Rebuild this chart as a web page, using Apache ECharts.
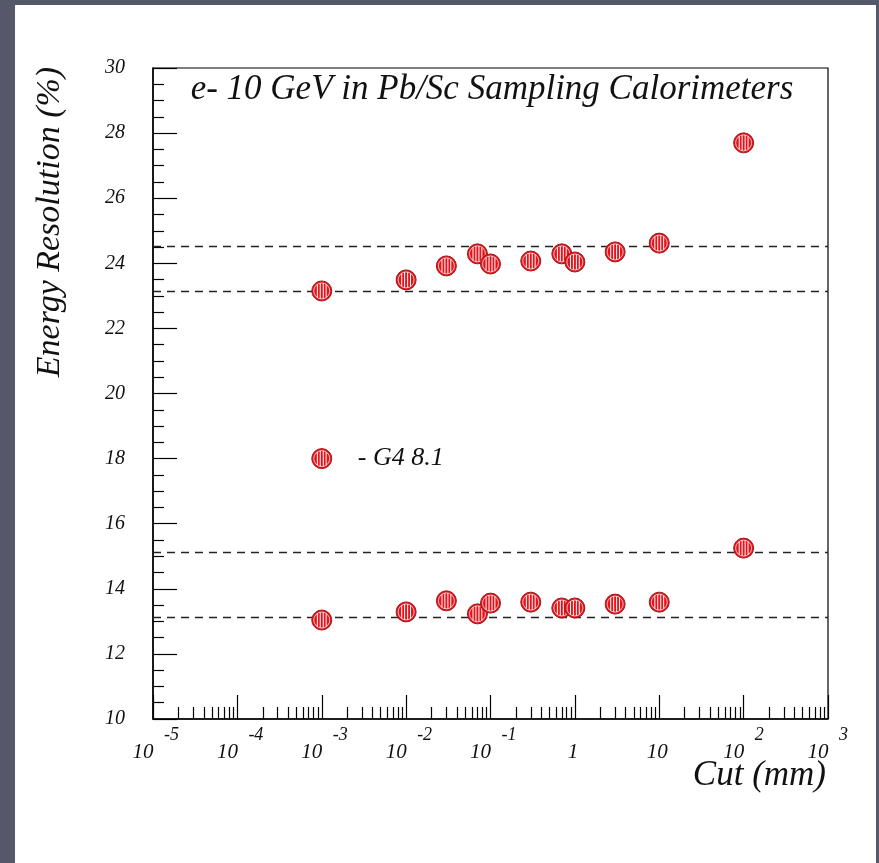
<!DOCTYPE html>
<html>
<head>
<meta charset="utf-8">
<script src="https://cdn.jsdelivr.net/npm/echarts@6/dist/echarts.min.js"></script>
<style>
  html, body { margin: 0; padding: 0; background: #555869; }
  .paper { position: absolute; left: 15px; top: 5px; width: 861px; height: 858px; background: #fff; }
  #chart { position: absolute; left: 0; top: 0; width: 879px; height: 863px; }
</style>
</head>
<body>
<div class="paper"></div>
<div id="chart"></div>
<script>
// production cut (mm) and energy resolution (%)
const cuts = [0.001, 0.01, 0.03, 0.07, 0.1, 0.3, 0.7, 1, 3, 10, 100]
const resUpper = [23.15, 23.49, 23.92, 24.29, 23.98, 24.07, 24.29, 24.04, 24.35, 24.62, 27.70]
const resLower = [13.04, 13.29, 13.63, 13.23, 13.56, 13.59, 13.41, 13.41, 13.53, 13.59, 15.25]
// dashed reference levels
const refLines = [24.53, 23.15, 15.13, 13.13]
// legend marker position and text
const legendPoint = [0.001, 18]
const legendText = '- G4 8.1'
// x axis ticks
const xMajorTicks = [1e-5, 1e-4, 1e-3, 1e-2, 1e-1, 1, 10, 100, 1000]
const xTickBase = ['10', '10', '10', '10', '10', '1', '10', '10', '10']
const xTickSup = ['-5', '-4', '-3', '-2', '-1', '', '', '2', '3']
const xMinorMults = [2, 3, 4, 5, 6, 7, 8, 9]
const xMinorTicks = xMajorTicks.slice(0, -1).flatMap(d => xMinorMults.map(m => m * d))

const font = 'Liberation Serif'

function tickIndex (value) {
  return xMajorTicks.findIndex(v => Math.abs(Math.log10(v) - Math.log10(value)) < 1e-6)
}

function renderMarker (params, api) {
  const p = api.coord([api.value(0), api.value(1)])
  const r = 10
  const children = [
    { type: 'circle', shape: { cx: p[0], cy: p[1], r: r }, style: { fill: '#e3141b', stroke: '#a01818', lineWidth: 1 } },
    { type: 'circle', shape: { cx: p[0], cy: p[1], r: r - 2 }, style: { fill: 'none', stroke: '#fff', lineWidth: 0.7 } }
  ]
  // white vertical stripes
  ;[-4.4, -1.5, 1.5, 4.4].forEach(dx => {
    const h = Math.sqrt((r - 2) * (r - 2) - dx * dx)
    children.push({
      type: 'line',
      shape: { x1: p[0] + dx, y1: p[1] - h, x2: p[0] + dx, y2: p[1] + h },
      style: { stroke: '#fff', lineWidth: 1 }
    })
  })
  return { type: 'group', children: children }
}

const chart = echarts.init(document.getElementById('chart'))
const option = {
  backgroundColor: 'transparent',
  animation: false,
  grid: {
    left: 153,
    right: 51,
    top: 68,
    bottom: 144,
    show: true,
    borderColor: '#000',
    borderWidth: 1.2,
    backgroundColor: 'transparent'
  },
  xAxis: [
    {
      // major ticks + mantissa labels
      type: 'log',
      logBase: 10,
      min: 1e-5,
      max: 1e3,
      position: 'bottom',
      axisLine: { show: true, lineStyle: { color: '#000', width: 1.5 } },
      axisTick: { show: true, inside: true, length: 24, customValues: xMajorTicks, lineStyle: { color: '#000', width: 1.2 } },
      axisLabel: {
        customValues: xMajorTicks,
        margin: 23,
        formatter: function (value) {
          const i = tickIndex(value)
          if (i < 0) return ''
          return xTickSup[i] ? '{b|' + xTickBase[i] + '}' : '{p|' + xTickBase[i] + '}'
        },
        rich: {
          b: { fontFamily: font, fontStyle: 'italic', fontSize: 21, color: '#111', padding: [0, 20, 0, 0] },
          p: { fontFamily: font, fontStyle: 'italic', fontSize: 21, color: '#111', padding: [0, 4, 0, 0] }
        }
      },
      splitLine: { show: false }
    },
    {
      // minor ticks + exponent labels
      type: 'log',
      logBase: 10,
      min: 1e-5,
      max: 1e3,
      position: 'bottom',
      offset: 0,
      axisLine: { show: false },
      axisTick: { show: true, inside: true, length: 12, customValues: xMinorTicks, lineStyle: { color: '#000', width: 1.2 } },
      axisLabel: {
        customValues: xMajorTicks,
        margin: 7,
        align: 'left',
        padding: [0, 0, 0, 11],
        fontFamily: font,
        fontStyle: 'italic',
        fontSize: 18,
        color: '#111',
        formatter: function (value) {
          const i = tickIndex(value)
          return i < 0 ? '' : xTickSup[i]
        }
      },
      splitLine: { show: false }
    }
  ],
  yAxis: {
    type: 'value',
    min: 10,
    max: 30,
    interval: 2,
    axisLine: { show: true, lineStyle: { color: '#000', width: 1.5 } },
    axisTick: { show: true, inside: true, length: 24, lineStyle: { color: '#000', width: 1.2 } },
    minorTick: { show: true, splitNumber: 4, length: 11, lineStyle: { color: '#000', width: 1.2 } },
    axisLabel: { fontFamily: font, fontStyle: 'italic', fontSize: 20, color: '#111', margin: 28 },
    splitLine: { show: false }
  },
  graphic: [
    {
      type: 'text',
      x: 492,
      y: 90,
      style: { text: 'e- 10 GeV in Pb/Sc Sampling Calorimeters', font: 'italic 35px "Liberation Serif"', fill: '#111', textAlign: 'center', textVerticalAlign: 'middle' }
    },
    {
      type: 'text',
      x: 50,
      y: 222,
      rotation: Math.PI / 2,
      style: { text: 'Energy Resolution (%)', font: 'italic 34px "Liberation Serif"', fill: '#111', textAlign: 'center', textVerticalAlign: 'middle' }
    },
    {
      type: 'text',
      x: 826,
      y: 776,
      style: { text: 'Cut (mm)', font: 'italic 35px "Liberation Serif"', fill: '#111', textAlign: 'right', textVerticalAlign: 'middle' }
    }
  ],
  series: [
    {
      name: 'upper',
      type: 'custom',
      xAxisIndex: 0,
      renderItem: renderMarker,
      data: cuts.map((c, i) => [c, resUpper[i]]),
      encode: { x: 0, y: 1 },
      z: 5,
      markLine: {
        silent: true,
        symbol: 'none',
        label: { show: false },
        lineStyle: { color: '#222', width: 1.3, type: [8, 6] },
        data: refLines.map(v => ({ yAxis: v }))
      }
    },
    {
      name: 'lower',
      type: 'custom',
      xAxisIndex: 0,
      renderItem: renderMarker,
      data: cuts.map((c, i) => [c, resLower[i]]),
      encode: { x: 0, y: 1 },
      z: 5
    },
    {
      name: 'legend',
      type: 'custom',
      xAxisIndex: 0,
      renderItem: function (params, api) {
        const g = renderMarker(params, api)
        const p = api.coord([api.value(0), api.value(1)])
        g.children.push({
          type: 'text',
          x: p[0] + 36,
          y: p[1],
          style: { text: legendText, font: 'italic 26px "Liberation Serif"', fill: '#111', textVerticalAlign: 'middle' }
        })
        return g
      },
      data: [legendPoint],
      encode: { x: 0, y: 1 },
      z: 5
    }
  ]
}
chart.setOption(option)
</script>
</body>
</html>
